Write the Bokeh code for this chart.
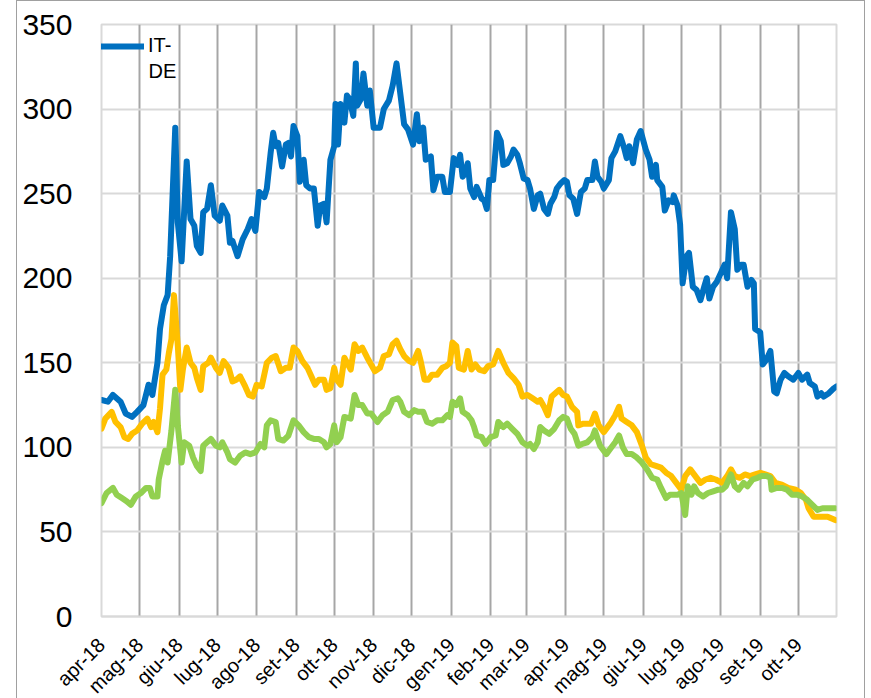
import math
import pandas as pd
from bokeh.plotting import figure
from bokeh.models import Range1d, FixedTicker, Legend, LegendItem, Label
from bokeh.embed import file_html
from bokeh.resources import INLINE

start_date = "2018-04-01"
end_date = "2019-10-31"

month_labels = ["apr-18", "mag-18", "giu-18", "lug-18", "ago-18", "set-18", "ott-18",
                "nov-18", "dic-18", "gen-19", "feb-19", "mar-19", "apr-19", "mag-19",
                "giu-19", "lug-19", "ago-19", "set-19", "ott-19"]
y_ticks = [0, 50, 100, 150, 200, 250, 300, 350]

# IT-DE (blue) : days since start_date, values
it_de_days = [0, 5, 9, 15, 19, 24, 28, 33, 37, 40,
              44, 46, 49, 52, 54, 58, 60, 63, 67, 70,
              73, 75, 78, 80, 83, 86, 89, 93, 95, 99,
              101, 103, 107, 111, 115, 118, 121, 124, 128, 130,
              133, 135, 137, 139, 142, 145, 147, 149, 151, 154,
              156, 159, 161, 164, 167, 170, 172, 175, 177, 180,
              183, 184, 186, 188, 191, 193, 195, 198, 200, 201,
              204, 206, 209, 211, 214, 219, 222, 226, 229, 232,
              235, 238, 241, 245, 248, 250, 253, 255, 259, 261,
              264, 268, 270, 274, 277, 280, 282, 284, 286, 288,
              290, 293, 295, 299, 301, 303, 305, 308, 311, 314,
              316, 319, 322, 324, 327, 329, 332, 335, 337, 340,
              343, 345, 348, 351, 353, 356, 358, 361, 364, 366,
              368, 371, 374, 377, 380, 382, 386, 388, 390, 393,
              395, 399, 401, 404, 408, 411, 413, 415, 418, 421,
              424, 428, 431, 433, 436, 437, 441, 443, 446, 449,
              450, 453, 455, 457, 460, 462, 465, 468, 471, 474,
              476, 478, 481, 484, 487, 490, 492, 495, 498, 500,
              503, 505, 508, 511, 513, 514, 518, 520, 523, 526,
              529, 531, 534, 537, 540, 544, 548, 551, 555, 557,
              561, 563, 566, 568, 572, 576, 578]
it_de_values = [128, 127, 131, 127, 120, 118, 121, 125, 137, 131,
                150, 170, 184, 190, 213, 289, 233, 210, 269, 235,
                231, 219, 215, 239, 241, 255, 237, 234, 243, 237,
                221, 222, 213, 223, 229, 235, 228, 251, 248, 253,
                274, 286, 278, 280, 266, 279, 280, 272, 290, 284,
                257, 270, 255, 253, 253, 231, 243, 244, 233, 270,
                278, 303, 279, 303, 292, 308, 306, 296, 327, 302,
                306, 321, 302, 311, 289, 289, 300, 305, 314, 327,
                309, 291, 288, 279, 297, 281, 289, 270, 272, 252,
                260, 260, 251, 251, 271, 267, 273, 260, 262, 268,
                253, 248, 254, 247, 246, 241, 258, 258, 286, 281,
                267, 268, 272, 276, 273, 268, 259, 258, 253, 241,
                249, 250, 241, 238, 244, 248, 253, 256, 258, 257,
                249, 247, 238, 251, 253, 258, 258, 269, 260, 257,
                253, 258, 271, 275, 284, 277, 271, 278, 268, 282,
                287, 276, 270, 260, 267, 258, 254, 240, 246, 245,
                249, 243, 232, 197, 213, 215, 195, 193, 187, 195,
                200, 188, 195, 198, 203, 208, 200, 239, 229, 205,
                208, 208, 195, 199, 197, 170, 168, 149, 152, 157,
                133, 132, 140, 144, 142, 140, 144, 140, 143, 138,
                136, 130, 132, 130, 132, 135, 136]

# yellow series
yellow_days = [0, 3, 8, 11, 15, 18, 21, 24, 28, 32,
               36, 39, 41, 44, 46, 48, 51, 53, 55, 57,
               60, 62, 64, 67, 70, 73, 75, 78, 80, 84,
               86, 90, 93, 96, 100, 103, 106, 109, 113, 116,
               119, 122, 126, 130, 134, 137, 141, 145, 148, 151,
               154, 158, 162, 165, 168, 171, 175, 177, 180, 183,
               185, 188, 191, 196, 199, 202, 205, 209, 212, 215,
               219, 222, 226, 229, 232, 235, 238, 242, 245, 249,
               251, 254, 257, 260, 264, 268, 271, 274, 276, 279,
               281, 285, 288, 291, 294, 297, 301, 304, 308, 312,
               316, 320, 324, 328, 331, 335, 339, 343, 345, 348,
               351, 354, 360, 363, 366, 370, 374, 375, 379, 385,
               388, 391, 395, 400, 404, 407, 409, 413, 417, 421,
               425, 428, 432, 436, 440, 444, 448, 452, 456, 459,
               463, 467, 471, 475, 479, 483, 488, 492, 495, 498,
               502, 506, 510, 514, 518, 522, 526, 530, 535, 540,
               546, 550, 554, 556, 560, 565, 571, 577]
yellow_values = [111, 117, 121, 115, 112, 106, 105, 108, 110, 114,
                 117, 112, 115, 109, 123, 143, 146, 156, 164, 190,
                 160, 134, 146, 159, 150, 147, 141, 134, 148, 150,
                 153, 147, 144, 151, 147, 139, 140, 142, 136, 131,
                 130, 137, 136, 150, 153, 154, 145, 147, 147, 159,
                 157, 151, 147, 142, 137, 140, 140, 134, 135, 147,
                 140, 137, 153, 146, 161, 157, 159, 153, 149, 145,
                 147, 154, 155, 161, 163, 158, 154, 151, 150, 157,
                 151, 140, 140, 143, 143, 147, 148, 150, 162, 160,
                 147, 146, 157, 146, 149, 146, 145, 148, 149, 157,
                 150, 144, 141, 137, 130, 131, 129, 127, 128, 124,
                 119, 130, 134, 131, 130, 124, 121, 113, 114, 114,
                 120, 113, 109, 114, 119, 124, 117, 115, 113, 109,
                 101, 94, 90, 89, 88, 85, 83, 79, 75, 83,
                 87, 83, 79, 81, 82, 81, 79, 83, 87, 83,
                 82, 84, 83, 84, 85, 84, 83, 79, 78, 76,
                 75, 73, 69, 64, 59, 59, 59, 57]

# green series
green_days = [0, 4, 9, 12, 16, 20, 23, 27, 31, 35,
              38, 40, 44, 45, 48, 50, 52, 55, 58, 60,
              63, 65, 69, 72, 75, 78, 80, 83, 86, 90,
              93, 95, 99, 101, 105, 109, 113, 117, 121, 125,
              128, 130, 133, 137, 139, 143, 147, 151, 155, 159,
              163, 167, 171, 175, 177, 180, 183, 185, 188, 191,
              196, 199, 202, 205, 209, 212, 217, 221, 225, 229,
              233, 235, 238, 242, 246, 249, 253, 256, 260, 264,
              268, 272, 274, 276, 279, 282, 284, 288, 291, 293,
              295, 299, 302, 306, 310, 312, 316, 319, 323, 327,
              331, 335, 337, 340, 343, 345, 348, 352, 356, 360,
              363, 366, 369, 372, 375, 378, 382, 386, 388, 392,
              397, 400, 404, 407, 410, 413, 417, 421, 425, 429,
              433, 437, 440, 444, 447, 451, 453, 456, 459, 461,
              464, 466, 469, 473, 477, 481, 485, 488, 491, 495,
              498, 501, 505, 508, 512, 516, 519, 523, 526, 527,
              531, 535, 539, 543, 547, 551, 555, 559, 563, 567,
              572, 577]
green_values = [67, 73, 76, 72, 70, 68, 66, 71, 73, 76,
                76, 71, 71, 81, 92, 98, 91, 110, 134, 113,
                91, 103, 101, 94, 89, 86, 101, 103, 105, 101,
                100, 103, 97, 93, 91, 95, 97, 96, 97, 102,
                100, 113, 116, 115, 105, 104, 107, 116, 113, 109,
                106, 105, 105, 103, 100, 102, 113, 103, 106, 118,
                117, 131, 125, 125, 120, 120, 115, 119, 121, 128,
                129, 127, 121, 119, 122, 121, 121, 115, 114, 116,
                116, 119, 118, 127, 125, 129, 121, 119, 116, 112,
                107, 106, 102, 106, 107, 115, 112, 114, 111, 108,
                103, 101, 102, 99, 103, 112, 110, 108, 111, 116,
                118, 117, 111, 108, 101, 102, 103, 106, 110, 101,
                96, 99, 103, 107, 100, 96, 96, 94, 91, 87,
                82, 81, 76, 70, 72, 72, 72, 73, 60, 77,
                72, 77, 73, 71, 73, 74, 75, 75, 77, 84,
                77, 75, 79, 77, 81, 82, 83, 83, 82, 75,
                76, 76, 75, 72, 72, 71, 69, 66, 63, 64,
                64, 64]

assert len(it_de_days) == len(it_de_values)
assert len(yellow_days) == len(yellow_values)
assert len(green_days) == len(green_values)

t0 = pd.Timestamp(start_date)


def to_dates(days):
    return t0 + pd.to_timedelta(days, unit="D")


month_ticks = pd.date_range(start_date, periods=len(month_labels), freq="MS")
tick_ms = [int(t.value // 10**6) for t in month_ticks]

FONT = "Liberation Sans"

p = figure(
    x_axis_type="datetime",
    width=847, height=680,
    frame_width=735, frame_height=592,
    min_border_left=84, min_border_right=28, min_border_top=23, min_border_bottom=65,
    output_backend="svg", toolbar_location=None,
    x_range=Range1d(pd.Timestamp(start_date), pd.Timestamp(end_date)),
    y_range=Range1d(0, 350),
)
p.styles = {"margin-left": "16px", "border-top": "1px solid #a0a0a0",
            "border-left": "1px solid #a0a0a0", "border-right": "1px solid #a0a0a0"}

p.background_fill_color = "white"
p.border_fill_color = "white"
p.outline_line_color = "#d9d9d9"
p.outline_line_width = 2

# axes
p.yaxis.ticker = FixedTicker(ticks=y_ticks)
p.yaxis.major_label_text_font = FONT
p.yaxis.major_label_text_font_size = "30px"
p.yaxis.major_label_text_color = "black"
p.yaxis.axis_line_color = None
p.yaxis.major_tick_line_color = None
p.yaxis.minor_tick_line_color = None
p.yaxis.major_tick_in = 0
p.yaxis.major_tick_out = 0
p.yaxis.major_label_standoff = 29

p.xaxis.ticker = FixedTicker(ticks=tick_ms)
p.xaxis.major_label_overrides = {ms: lab for ms, lab in zip(tick_ms, month_labels)}
p.xaxis.major_label_orientation = math.pi / 4
p.xaxis.major_label_text_font = FONT
p.xaxis.major_label_text_font_size = "20px"
p.xaxis.major_label_text_color = "black"
p.xaxis.axis_line_color = "#d9d9d9"
p.xaxis.axis_line_width = 2
p.xaxis.major_tick_line_color = None
p.xaxis.minor_tick_line_color = None
p.xaxis.major_tick_in = 0
p.xaxis.major_tick_out = 0
p.xaxis.major_label_standoff = 25

# grids
p.ygrid.ticker = FixedTicker(ticks=y_ticks)
p.ygrid.grid_line_color = "#d9d9d9"
p.ygrid.grid_line_width = 2
p.xgrid.ticker = FixedTicker(ticks=tick_ms[1:])
p.xgrid.grid_line_color = "#a6a6a6"
p.xgrid.grid_line_width = 2

blue = p.line(to_dates(it_de_days), it_de_values, line_color="#0070C0", line_width=6,
              line_join="round", line_cap="round")
p.line(to_dates(yellow_days), yellow_values, line_color="#FFC000", line_width=6,
       line_join="round", line_cap="round")
p.line(to_dates(green_days), green_values, line_color="#92D050", line_width=6,
       line_join="round", line_cap="round")

legend = Legend(items=[LegendItem(label="IT-", renderers=[blue])],
                location=(-14, 559), orientation="vertical",
                glyph_width=57, glyph_height=20, label_height=20, label_standoff=4,
                padding=0, margin=0, spacing=0,
                label_text_font=FONT, label_text_font_size="20px",
                label_text_color="black",
                border_line_color=None, background_fill_alpha=0)
p.add_layout(legend)

p.add_layout(Label(x=47, y=546, x_units="screen", y_units="screen", text="DE",
                   text_font=FONT, text_font_size="20px", text_color="black",
                   text_baseline="middle", text_align="left"))

open("out.html", "w").write(file_html(p, INLINE))
